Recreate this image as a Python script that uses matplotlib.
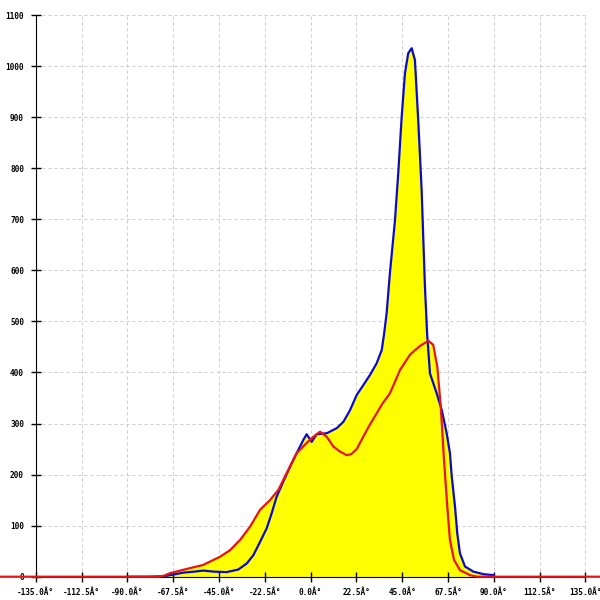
import numpy as np
import matplotlib.pyplot as plt

# --- data ---
blue_x = [-90, -80, -72, -69, -62.5, -57, -52.7, -47.7, -41.2, -35.5, -31.3, -28.1,
          -24.8, -21.5, -19.1, -16.6, -13.4, -10.1, -6.8, -3.5, -1.9, 0.6, 3, 8,
          12.9, 16.1, 19.4, 22.7, 25.9, 29.2, 32.5, 35, 36.1, 37.4, 39, 41.5, 43.1,
          44.8, 46.4, 48, 49.7, 51.3, 53, 54.6, 56.2, 57.3, 58.7, 62, 64.5, 66.9,
          68.5, 69.4, 71, 72.1, 73.4, 75.9, 80, 85, 90]
blue_y = [0, 0, 1, 3, 8, 10, 12, 10, 9, 14, 26, 42,
          68, 95, 124, 157, 186, 215, 242, 268, 279, 264, 279, 281,
          291, 303, 326, 356, 375, 395, 418, 444, 474, 516, 594, 698, 790,
          901, 986, 1025, 1035, 1012, 888, 757, 570, 475, 398, 359, 326, 281,
          242, 196, 137, 85, 46, 20, 10, 5, 3]

red_x = [-180, -90, -75, -72, -69, -59, -52.8, -44.5, -39.5, -34.6, -29.7, -24.8,
         -19.9, -15.8, -11.7, -6.8, -1.9, 1.4, 4.7, 8, 11.2, 14.5, 17.8, 20,
         22.7, 25.9, 29.2, 32.5, 35.5, 39, 44, 48.9, 53.8, 57.9, 60.3, 62.3, 64,
         65.6, 67.2, 68.5, 70.5, 73.4, 78.4, 82, 180]
red_y = [0, 0, 0, 2, 7, 17, 23, 39, 52, 72, 98, 131,
         150, 170, 203, 242, 262, 274, 284, 274, 255, 245, 238, 240,
         250, 274, 298, 320, 340, 359, 405, 435, 452, 462, 454, 411, 333,
         228, 137, 72, 33, 13, 3, 0, 0]

x_ticks = np.arange(-135, 136, 22.5)
y_ticks = np.arange(0, 1101, 100)

fig = plt.figure(figsize=(6, 6), dpi=100)
ax = fig.add_axes([0, 0, 1, 1])
ax.set_xlim(-152.54, 142.22)
ax.set_ylim(-45.6, 1129.4)

# grid (light dashed, only inside the tick range)
ax.hlines(y_ticks[1:], -135, 135, colors='#c4c4c4', linestyles=(0, (3.6, 3.6)), lw=0.6, zorder=0)
ax.vlines(x_ticks[1:], 0, 1100, colors='#c4c4c4', linestyles=(0, (3.6, 3.6)), lw=0.6, zorder=0)

# fills + lines
ax.fill_between(blue_x, 0, blue_y, color='#ffff00', lw=0, zorder=1)
ax.fill_between(red_x, 0, red_y, color='#ffff00', lw=0, zorder=1)
ax.plot(blue_x, blue_y, color='#0a0acd', lw=1.6, zorder=3)
ax.plot(red_x, red_y, color='#e81414', lw=1.6, zorder=4)

# axes
for s in ['top', 'right']:
    ax.spines[s].set_visible(False)
ax.spines['left'].set_position(('data', -135))
ax.spines['left'].set_bounds(0, 1100)
ax.spines['bottom'].set_position(('data', 0))
ax.spines['bottom'].set_bounds(-135, 135)
ax.spines['left'].set_zorder(2)
ax.spines['bottom'].set_zorder(2)

ax.set_xticks(x_ticks)
ax.set_xticklabels([f'{v:.1f}Â°' for v in x_ticks])
ax.set_yticks(y_ticks)
ax.set_yticklabels([f'{v:d}' for v in y_ticks])
ax.tick_params(direction='inout', length=6.5, width=1, pad=5.2)
for lab in ax.get_xticklabels() + ax.get_yticklabels():
    lab.set_family('DejaVu Sans Mono')
    lab.set_fontsize(5.6)
    lab.set_fontweight('bold')

fig.savefig('out.png', dpi=100)
